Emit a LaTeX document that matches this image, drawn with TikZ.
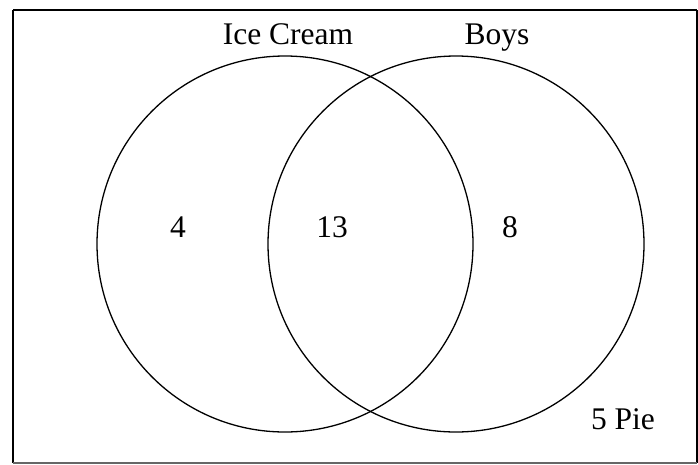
\documentclass[tikz,border=0pt]{standalone}
\usepackage{fontspec}
\setmainfont{Liberation Serif}
\begin{document}
\begin{tikzpicture}[x=1pt,y=-1pt,
    insieme/.style={line width=1.3pt, black},
    etichetta/.style={anchor=base, inner sep=0pt, font=\fontsize{31.5}{36}\selectfont}]

    % Raggio dei due insiemi
    \def\R{188pt}

    \useasboundingbox (0,0) rectangle (698,464);

    % Cornice dell'universo
    \draw[line width=2.2pt] (13,10) -- (697,10);
    \draw[line width=2.2pt] (13,10) -- (13,463);
    \draw[line width=1.4pt] (697,10) -- (697,463);
    \draw[black!60, line width=1.2pt] (13,463) -- (697,463);

    % Centri dei cerchi
    \coordinate (IC) at (285,244);
    \coordinate (B) at (456,244);

    \draw[insieme] (IC) circle (\R);
    \draw[insieme] (B) circle (\R);

    % Nomi degli insiemi
    \node[etichetta] (nomeIC) at (288,44) {Ice Cream};
    \node[etichetta] (nomeB) at (497,44) {Boys};

    % Numeri nelle regioni
    \node[etichetta] (solo IC) at (178,237) {4};
    \node[etichetta] (entrambi) at (332,237) {13};
    \node[etichetta] (solo B) at (510,237) {8};
    \node[etichetta] (fuori) at (623,429) {5 Pie};

\end{tikzpicture}
\end{document}
